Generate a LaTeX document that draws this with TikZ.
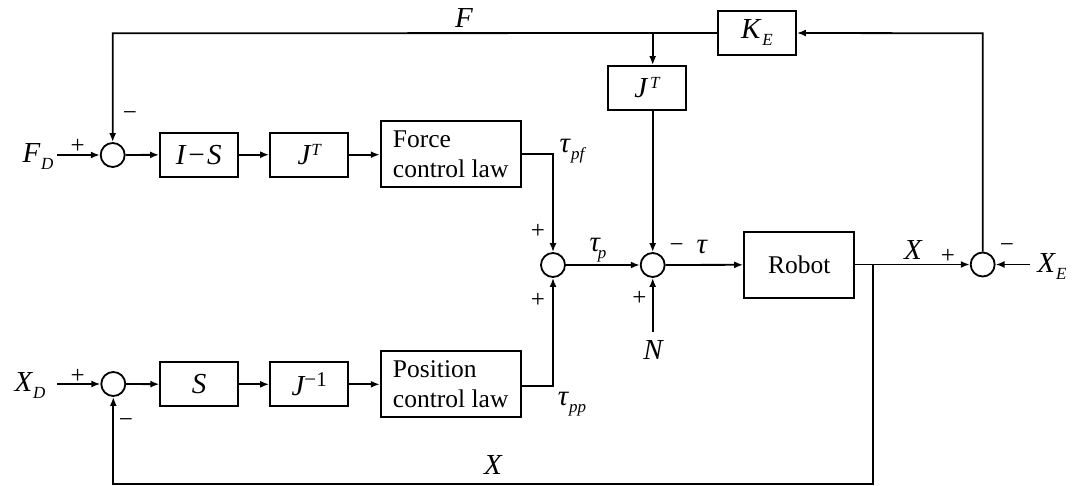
\documentclass[tikz,border=0pt]{standalone}
\usepackage{fontspec}
\setmainfont{Liberation Serif}
\usetikzlibrary{arrows.meta}
\newcommand\mylab{\fontsize{29}{30}\selectfont\itshape}
\newcommand\mysbf{\fontsize{17}{18}\selectfont\itshape}
\newcommand\mysb[1]{\raisebox{-7pt}{\mysbf #1}}
\newcommand\mysp[1]{\raisebox{9pt}{\mysbf #1}}
\newcommand\mytxt{\fontsize{25.5}{30}\selectfont}
\newcommand\mysgn{\fontsize{25}{26}\selectfont}
\tikzset{
  ln/.style={line width=1.8pt},
  arr/.style={ln,-{Latex[length=9pt,width=7pt]}},
  blk/.style={draw,line width=1.8pt,minimum height=44pt,inner sep=0pt},
  bigblk/.style={draw,line width=1.8pt,minimum height=66pt,minimum width=140pt,inner sep=0pt,align=left,font=\mytxt},
  sumc/.style={draw,circle,line width=1.8pt,minimum size=24pt,inner sep=0pt},
  lab/.style={inner sep=0pt,font=\mylab},
  sgn/.style={inner sep=0pt,font=\mysgn},
}
\begin{document}
\begin{tikzpicture}[x=1pt,y=-1pt]
\useasboundingbox[fill=white] (0,0) rectangle (1077,486);
% summing junctions
\node[sumc] (s1) at (112.7,155) {};
\node[sumc] (s2) at (113.3,384) {};
\node[sumc] (s3) at (553,265) {};
\node[sumc] (s4) at (652.7,265) {};
\node[sumc] (s5) at (982.7,264.5) {};
% blocks
\node[blk,minimum width=77.7pt,font=\mylab] (is) at (198.8,154.7) {I\kern1pt−\kern1ptS};
\node[blk,minimum width=78.3pt,font=\mylab] (jt1) at (309.2,154.7) {J\kern1pt\mysp{T}};
\node[bigblk] (fcl) at (450.7,154) {Force\\control law};
\node[blk,minimum width=77.4pt,font=\mylab] (sb) at (199,384.3) {S};
\node[blk,minimum width=78.3pt,font=\mylab] (ji) at (309.2,384.3) {J{\fontsize{21}{21}\selectfont\upshape\raisebox{9pt}{−1}}};
\node[bigblk] (pcl) at (450.7,384) {Position\\control law};
\node[blk,minimum width=78pt,font=\mylab] (ke) at (757,33) {K\kern2pt\mysb{E}};
\node[blk,minimum width=78pt,font=\mylab] (jt2) at (647,88) {J\kern3pt\mysp{T}};
\node[draw,line width=1.8pt,minimum width=110.3pt,minimum height=66pt,inner sep=0pt,font=\mytxt] (rob) at (799.2,264.7) {Robot};
% signal labels
\node[lab] (fd) at (38,157) {F\kern1pt\mysb{D}};
\node[lab] (xd) at (30,386) {X\kern1pt\mysb{D}};
\node[lab] (xe) at (1052,267) {X\kern1pt\mysb{E}};
\node[lab] (nn) at (653,350) {N};
\node[lab] (fl) at (464,18.5) {F};
\node[lab] (xt) at (913,250) {X};
\node[lab] (xb) at (493,465) {X};
\node[lab] (tpf) at (572,151) {τ\kern1pt\mysb{pf}};
\node[lab] (tp) at (598,250) {τ\kern-2pt\mysb{p}};
\node[lab] (tt) at (701.7,246.7) {τ};
\node[lab] (tpp) at (572,404) {τ\kern1pt\mysb{pp}};
% signs
\node[sgn] (p1) at (77.7,146) {+};
\node[sgn] (m1) at (130,116) {−};
\node[sgn] (p2) at (77.7,376) {+};
\node[sgn] (m2) at (126,422.7) {−};
\node[sgn] (p3) at (538,231.7) {+};
\node[sgn] (p4) at (538,300) {+};
\node[sgn] (m4) at (676.7,248) {−};
\node[sgn] (p5) at (639.3,298.3) {+};
\node[sgn] (p6) at (948,256) {+};
\node[sgn] (m6) at (1007,248) {−};
% helper coordinates
\coordinate (fdin) at (57,155);
\coordinate (xdin) at (57,384);
\coordinate (xein) at (1030,264.5);
\coordinate (nin) at (652.7,331.7);
\coordinate (tl) at (112.7,33.3);
\coordinate (br) at (652.7,33.3);
\coordinate (tr) at (982.7,33.3);
\coordinate (bx) at (872.7,264.5);
\coordinate (bb) at (872.7,484.3);
\coordinate (bl) at (113.3,484.3);
\coordinate (fo) at (553,154.3);
\coordinate (po) at (553,386);
% connectors
\draw[arr] (fdin) -- (s1);
\draw[arr] (s1) -- (is);
\draw[arr] (is) -- (jt1);
\draw[arr] (jt1) -- (jt1 -| fcl.west);
\draw[arr] (fcl.east |- fo) -- (fo) -- (s3);
\draw[arr] (xdin) -- (s2);
\draw[arr] (s2) -- (sb);
\draw[arr] (sb) -- (ji);
\draw[arr] (ji) -- (ji -| pcl.west);
\draw[arr] (pcl.east |- po) -- (po) -- (s3);
\draw[arr] (ke.west) -- (tl) -- (s1);
\draw[arr] (br) -- (br |- jt2.north);
\draw[arr] (s4 |- jt2.south) -- (s4);
\draw[arr] (s3) -- (s4);
\draw[arr] (nin) -- (s4);
\draw[arr] (s4) -- (rob);
\draw[ln] (rob.east |- bx) -- (bx);
\draw[arr] (bx) -- (s5);
\draw[arr] (bx) -- (bb) -- (bl) -- (s2);
\draw[arr] (s5) -- (tr) -- (ke.east);
\draw[arr] (xein) -- (s5);
\end{tikzpicture}
\end{document}
